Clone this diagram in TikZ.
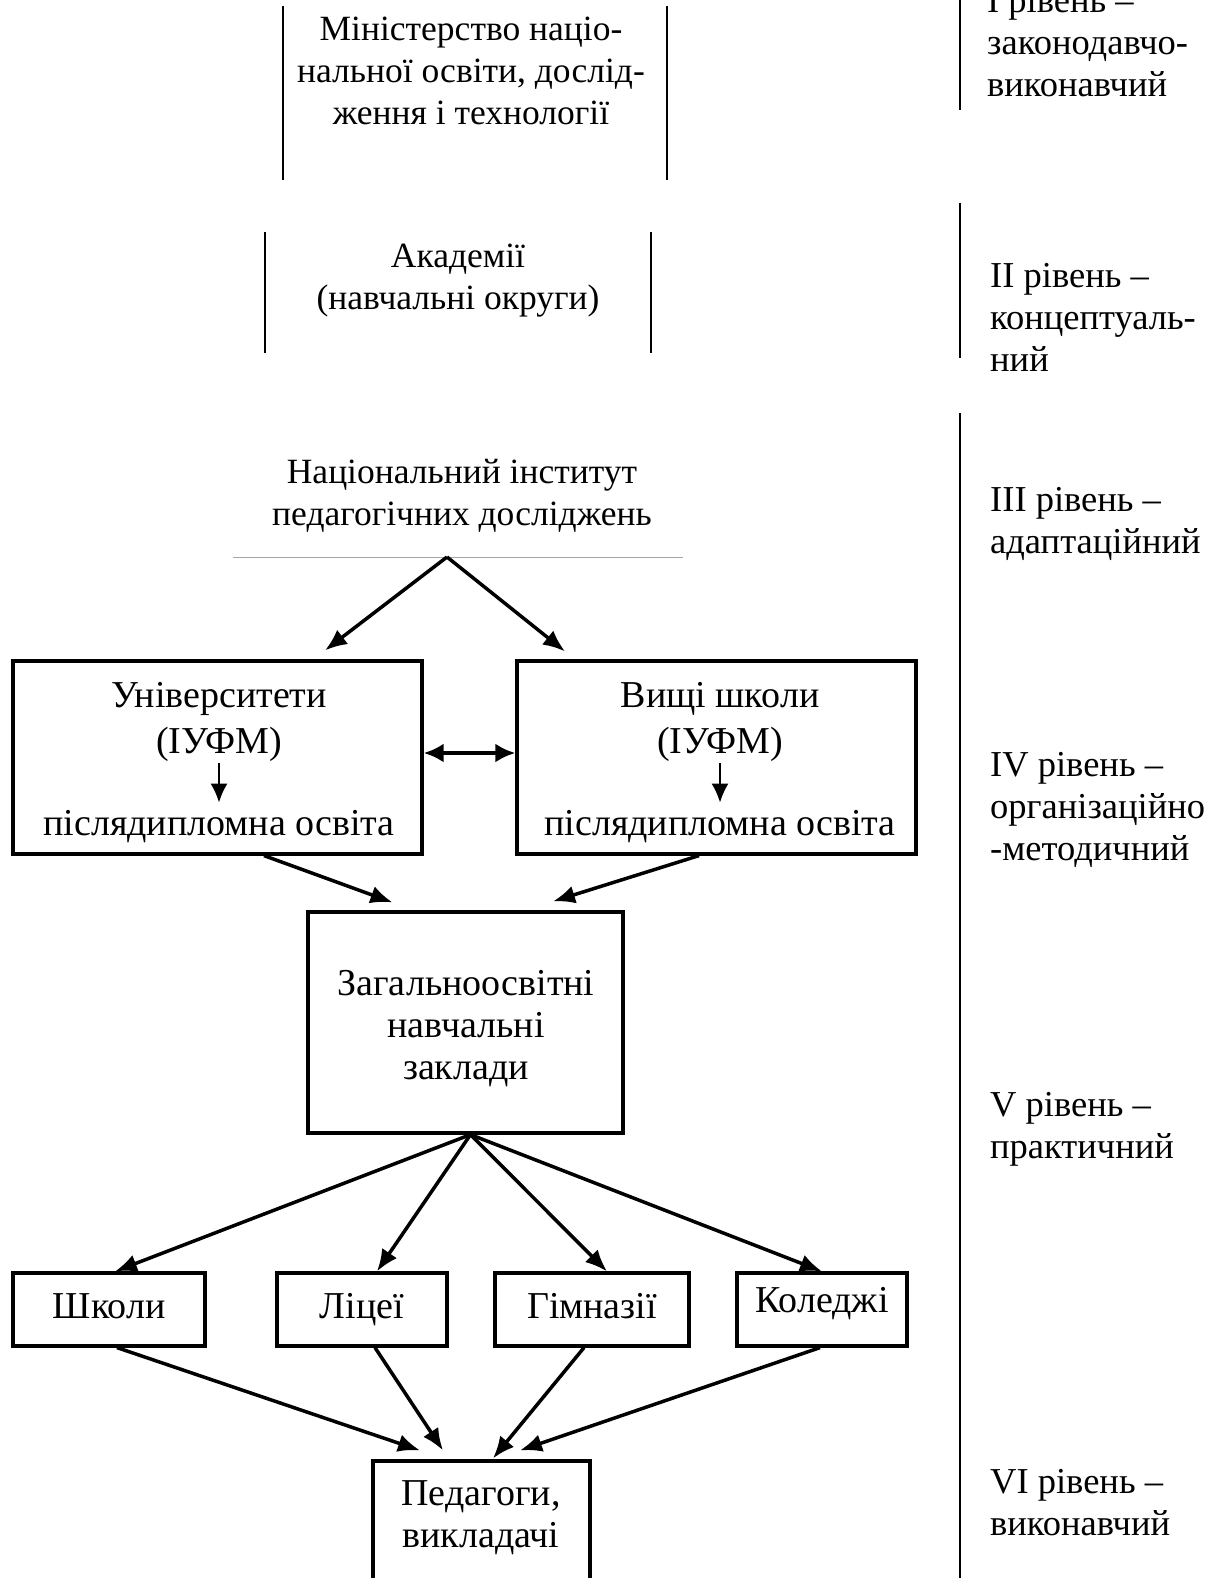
\documentclass[tikz,border=0pt]{standalone}
\usepackage{fontspec}
\setmainfont{Liberation Serif}
\usepackage{tikz}
\usetikzlibrary{arrows.meta}

\begin{document}
\begin{tikzpicture}[x=1pt, y=-1pt, font=\fontsize{36.5}{42}\selectfont,
    box/.style={draw, line width=3.2pt, inner sep=0pt, font=\fontsize{38}{42}\selectfont},
    row/.style={box, minimum height=73pt, text height=26pt, text depth=9pt},
    sideframe/.style={inner sep=0pt},
    txt/.style={align=center, inner sep=0pt, anchor=base},
    toptxt/.style={txt, font=\fontsize{35.5}{42}\selectfont},
    boxtxt/.style={txt, font=\fontsize{38}{42}\selectfont},
    lvl/.style={align=left, inner sep=0pt, anchor=base west},
    side/.style={line width=1.6pt},
    arr/.style={line width=3.5pt, -{Latex[length=22pt,width=18pt]}},
    inarr/.style={line width=2.2pt, -{Latex[length=19pt,width=17pt]}},
    dblarr/.style={line width=4.5pt, {Latex[length=20pt,width=19pt]}-{Latex[length=20pt,width=19pt]}}]
\useasboundingbox (0,0) rectangle (1212,1578);
\clip (0,0) rectangle (1212,1578);

\node[sideframe, minimum width=384pt, minimum height=174pt] (minframe) at (475,93) {};
\draw[side] (minframe.north west) -- (minframe.south west);
\draw[side] (minframe.north east) -- (minframe.south east);
\node[toptxt] (min) at (471,125) {Міністерство націо-\\нальної освіти, дослід-\\ження і технології};

\node[sideframe, minimum width=386pt, minimum height=121pt] (acadframe) at (458,292.5) {};
\draw[side] (acadframe.north west) -- (acadframe.south west);
\draw[side] (acadframe.north east) -- (acadframe.south east);
\node[toptxt] (acad) at (458,309) {Академії\\(навчальні округи)};

\node[toptxt] (inst) at (462,525) {Національний інститут\\педагогічних досліджень};
\node[sideframe, minimum width=450pt] (instrule) at (458,557) {};
\draw[gray!70, line width=1pt] (instrule.west) -- (instrule.east);
\coordinate (apex) at ([xshift=-11pt]instrule.center);

\node[box, minimum width=409pt, minimum height=193pt] (univ) at (217.5,757.5) {};
\node[box, minimum width=399pt, minimum height=193pt] (vysh) at (716.5,757.5) {};
\node[boxtxt, font=\fontsize{38}{46}\selectfont] (univname) at (219,753) {Університети\\(ІУФМ)};
\node[boxtxt] (univpost) at (219,835) {післядипломна освіта};
\node[boxtxt, font=\fontsize{38}{46}\selectfont] (vyshname) at (720,753) {Вищі школи\\(ІУФМ)};
\node[boxtxt] (vyshpost) at (720,835) {післядипломна освіта};
\draw[inarr, shorten <=2pt, shorten >=7pt] (univname) -- (univpost);
\draw[inarr, shorten <=2pt, shorten >=7pt] (vyshname) -- (vyshpost);
\draw[dblarr] ([yshift=4.5pt]univ.east) -- ([yshift=4.5pt]vysh.west);

\node[box, minimum width=315pt, minimum height=221pt] (zah) at (465.5,1022.5) {};
\node[boxtxt] (zahname) at (466,1079) {Загальноосвітні\\навчальні\\заклади};

\node[row, minimum width=192pt] (shk) at (109,1309.5) {Школи};
\node[row, minimum width=170pt] (lic) at (362,1309.5) {Ліцеї};
\node[row, minimum width=194pt] (gim) at (592,1309.5) {Гімназії};
\node[row, minimum width=170pt, text height=22pt, text depth=17pt] (kol) at (822,1309.5) {Коледжі};

\node[box, minimum width=217pt, minimum height=140pt] (ped) at (481.5,1531) {};
\node[boxtxt] (pedname) at (481,1547) {Педагоги,\\викладачі};

\draw[arr] (apex) -- ([xshift=107.5pt,yshift=9pt]univ.north);
\draw[arr] (apex) -- ([xshift=-151.5pt,yshift=8pt]vysh.north);
\draw[arr] ([xshift=46.5pt]univ.south) -- ([xshift=-73pt,yshift=8pt]zah.north);
\draw[arr] ([xshift=-17.5pt]vysh.south) -- ([xshift=87.5pt,yshift=9pt]zah.north);

\draw[arr] ([xshift=5pt]zah.south) -- ([xshift=6pt]shk.north);
\draw[arr] ([xshift=5pt]zah.south) -- ([xshift=15pt]lic.north);
\draw[arr] ([xshift=5pt]zah.south) -- ([xshift=15pt]gim.north);
\draw[arr] ([xshift=5pt]zah.south) -- (kol.north);

\draw[arr] ([xshift=8pt]shk.south) -- ([xshift=-61.5pt,yshift=9pt]ped.north);
\draw[arr] ([xshift=13pt]lic.south) -- ([xshift=-38.5pt,yshift=9pt]ped.north);
\draw[arr] ([xshift=-8pt]gim.south) -- ([xshift=11.5pt,yshift=1pt]ped.north);
\draw[arr] ([xshift=-2pt]kol.south) -- ([xshift=38.5pt,yshift=9pt]ped.north);

\draw[side] (960,0) -- (960,110);
\draw[side] (960,203) -- (960,358);
\draw[side] (960,413) -- (960,1578);
\node[lvl] (lev1) at (987,97) {I рівень –\\законодавчо-\\виконавчий};
\node[lvl] (lev2) at (990,371) {II рівень –\\концептуаль-\\ний};
\node[lvl] (lev3) at (990,553) {III рівень –\\адаптаційний};
\node[lvl] (lev4) at (990,860) {IV рівень –\\організаційно\\-методичний};
\node[lvl] (lev5) at (990,1158) {V рівень –\\практичний};
\node[lvl] (lev6) at (990,1535) {VI рівень –\\виконавчий};
\end{tikzpicture}
\end{document}
